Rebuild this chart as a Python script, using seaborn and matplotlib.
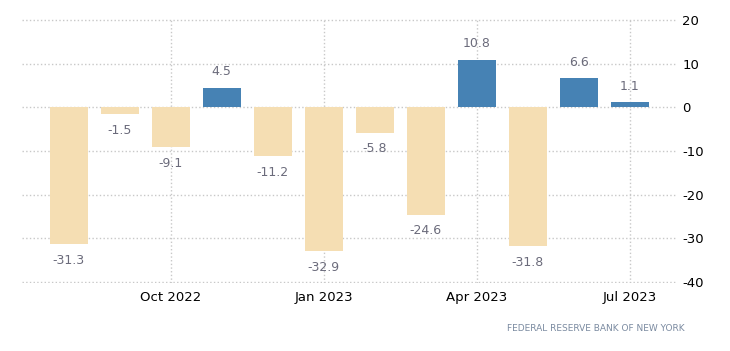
import numpy as np
import pandas as pd
import seaborn as sns
import matplotlib.pyplot as plt

months = ['Aug 2022', 'Sep 2022', 'Oct 2022', 'Nov 2022', 'Dec 2022', 'Jan 2023',
          'Feb 2023', 'Mar 2023', 'Apr 2023', 'May 2023', 'Jun 2023', 'Jul 2023']
values = [-31.3, -1.5, -9.1, 4.5, -11.2, -32.9, -5.8, -24.6, 10.8, -31.8, 6.6, 1.1]
tick_months = ['Oct 2022', 'Jan 2023', 'Apr 2023', 'Jul 2023']
yticks = [20, 10, 0, -10, -20, -30, -40]

df = pd.DataFrame({'month': months, 'value': values})
df['sign'] = np.where(df['value'] >= 0, 'pos', 'neg')

sns.set_style('white')
plt.rcParams['axes.unicode_minus'] = False
fig = plt.figure(figsize=(7.3, 3.51), dpi=100)
ax = fig.add_axes([0.030, 0.194, 0.897, 0.752])

ax.grid(True, linestyle=':', color='#c8c8c8', linewidth=1)
ax.set_axisbelow(True)

sns.barplot(data=df, x='month', y='value', hue='sign', order=months,
            palette={'pos': '#4682B4', 'neg': '#F5DEB3'}, dodge=False,
            width=0.74, saturation=1, legend=False, linewidth=0, ax=ax)

for i, v in enumerate(values):
    if v >= 0:
        ax.annotate(f'{v:.1f}', (i, v), xytext=(0, 7), textcoords='offset points',
                    ha='center', va='bottom', fontsize=9, color='#6b6b7b')
    else:
        ax.annotate(f'{v:.1f}', (i, v), xytext=(0, -7), textcoords='offset points',
                    ha='center', va='top', fontsize=9, color='#6b6b7b')

ax.set_xlim(-0.92, 11.92)
ax.set_ylim(-40.2, 20.2)
ax.set_yticks(yticks)
ax.set_xticks([months.index(m) for m in tick_months])
ax.set_xticklabels(tick_months)
ax.yaxis.tick_right()
ax.tick_params(axis='both', length=0, labelsize=9.5, colors='black')
ax.tick_params(axis='y', pad=4)
ax.tick_params(axis='x', pad=6)
ax.grid(True, linestyle=':', color='#c8c8c8', linewidth=1)
for s in ax.spines.values():
    s.set_visible(False)
ax.set_xlabel('')
ax.set_ylabel('')

fig.text(0.938, 0.065, 'FEDERAL RESERVE BANK OF NEW YORK', ha='right', va='center',
         fontsize=6.5, color='#7a8aa0')

fig.savefig('out.png', dpi=100)
